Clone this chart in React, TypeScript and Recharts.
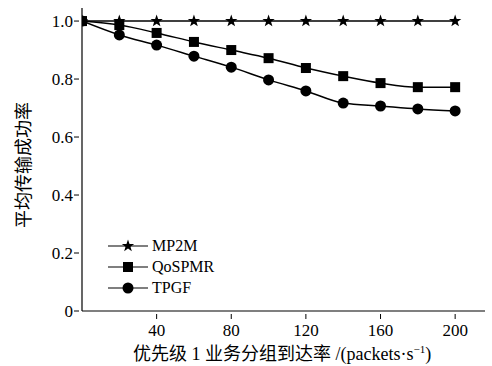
import React from 'react';
import { LineChart, Line, XAxis, YAxis } from 'recharts';

document.body.style.margin = '0';

const rates = [0, 20, 40, 60, 80, 100, 120, 140, 160, 180, 200];
const mp2m = [1.0, 1.0, 1.0, 1.0, 1.0, 1.0, 1.0, 1.0, 1.0, 1.0, 1.0];
const qospmr = [1.0, 0.986, 0.959, 0.928, 0.9, 0.872, 0.838, 0.81, 0.786, 0.772, 0.772];
const tpgf = [1.0, 0.952, 0.917, 0.879, 0.841, 0.797, 0.759, 0.717, 0.707, 0.697, 0.69];
const xTicks = [40, 80, 120, 160, 200];
const yTicks = [0, 0.2, 0.4, 0.6, 0.8, 1.0];

const data = rates.map((r, i) => ({ rate: r, mp2m: mp2m[i], qospmr: qospmr[i], tpgf: tpgf[i] }));

const serif = '"Liberation Serif", "Times New Roman", serif';
const cjk = '"Noto Sans CJK SC", sans-serif';

function starPath(cx: number, cy: number, R: number, r: number) {
  let d = '';
  for (let i = 0; i < 10; i++) {
    const rad = i % 2 === 0 ? R : r;
    const a = -Math.PI / 2 + (i * Math.PI) / 5;
    d += (i === 0 ? 'M' : 'L') + (cx + rad * Math.cos(a)).toFixed(2) + ',' + (cy + rad * Math.sin(a)).toFixed(2);
  }
  return d + 'Z';
}

const Star = ({ cx, cy }: any) => <path d={starPath(cx, cy, 6.5, 2.6)} fill="#000" />;
const Square = ({ cx, cy }: any) => <rect x={cx - 5} y={cy - 5} width={10} height={10} fill="#000" />;
const Dot = ({ cx, cy }: any) => <circle cx={cx} cy={cy} r={5.5} fill="#000" />;

const XTick = ({ x, y, payload }: any) => (
  <g>
    <line x1={x} y1={y} x2={x} y2={y - 5} stroke="#000" strokeWidth={1} />
    <text x={x} y={y + 17} textAnchor="middle" fontFamily={serif} fontSize={17} fill="#000">
      {payload.value}
    </text>
  </g>
);

const YTick = ({ x, y, payload }: any) => (
  <g>
    <line x1={x} y1={y} x2={x + 5} y2={y} stroke="#000" strokeWidth={1} />
    <text x={x - 1} y={y + 6} textAnchor="end" fontFamily={serif} fontSize={17} fill="#000">
      {payload.value === 0 ? '0' : payload.value.toFixed(1)}
    </text>
  </g>
);

const legendItems = [
  { name: 'MP2M', M: Star },
  { name: 'QoSPMR', M: Square },
  { name: 'TPGF', M: Dot },
];

const LegendBox = () => (
  <svg width={130} height={70} style={{ position: 'absolute', left: 100, top: 236 }}>
    {legendItems.map((it, i) => {
      const cy = 10 + i * 21;
      const M = it.M;
      return (
        <g key={it.name}>
          <line x1={8} y1={cy} x2={48} y2={cy} stroke="#000" strokeWidth={1.2} />
          <M cx={28} cy={cy} />
          <text x={52} y={cy + 5} fontFamily={serif} fontSize={16} fill="#000">
            {it.name}
          </text>
        </g>
      );
    })}
  </svg>
);

export default function App() {
  return (
    <div style={{ position: 'relative', width: 492, height: 366, background: '#fff' }}>
      <LineChart width={492} height={366} data={data} margin={{ top: 8, right: 7, left: 0, bottom: 25 }}>
        <XAxis
          dataKey="rate"
          type="number"
          domain={[0, 216]}
          ticks={xTicks}
          height={30}
          tickLine={false}
          tick={<XTick />}
          axisLine={{ stroke: '#000', strokeWidth: 1.2 }}
          allowDataOverflow
        />
        <YAxis
          type="number"
          domain={[0, 1.045]}
          ticks={yTicks}
          width={82}
          tickLine={false}
          tick={<YTick />}
          axisLine={{ stroke: '#000', strokeWidth: 1.2 }}
          allowDataOverflow
        />
        <Line type="monotone" dataKey="mp2m" stroke="#000" strokeWidth={1.5} isAnimationActive={false}
          dot={(p: any) => <Star key={'s' + p.index} cx={p.cx} cy={p.cy} />} />
        <Line type="monotone" dataKey="qospmr" stroke="#000" strokeWidth={1.5} isAnimationActive={false}
          dot={(p: any) => <Square key={'q' + p.index} cx={p.cx} cy={p.cy} />} />
        <Line type="monotone" dataKey="tpgf" stroke="#000" strokeWidth={1.5} isAnimationActive={false}
          dot={(p: any) => <Dot key={'t' + p.index} cx={p.cx} cy={p.cy} />} />
      </LineChart>
      <LegendBox />
      <div style={{ position: 'absolute', left: 22, top: 165, transform: 'translate(-50%, -50%) rotate(-90deg)', whiteSpace: 'nowrap', fontFamily: cjk, fontSize: 18, color: '#000' }}>
        平均传输成功率
      </div>
      <div style={{ position: 'absolute', left: 133, top: 339, whiteSpace: 'nowrap', fontSize: 18, color: '#000' }}>
        <span style={{ fontFamily: cjk }}>优先级</span>
        <span style={{ fontFamily: serif }}> 1 </span>
        <span style={{ fontFamily: cjk }}>业务分组到达率</span>
        <span style={{ fontFamily: serif }}> /(packets·s<sup style={{ fontSize: 11 }}>−1</sup>)</span>
      </div>
    </div>
  );
}
